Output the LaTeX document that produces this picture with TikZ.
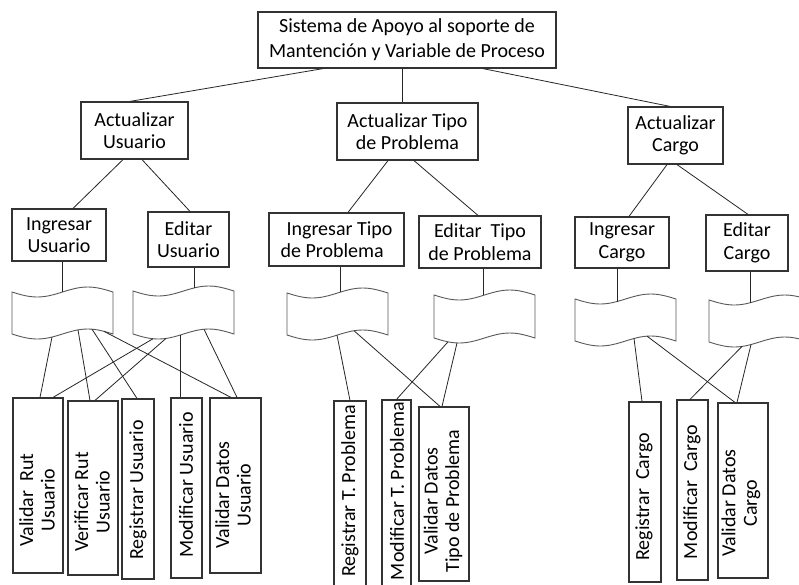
\documentclass[tikz,border=0pt]{standalone}
\usepackage{fontspec}
\setmainfont{Carlito}

% framed text box given by its corners: name, x0, y0, x1, y1, text
\newcommand\boxat[6]{%
  \node[box, minimum width={(#4-#2)*1pt}, minimum height={(#5-#3)*1pt}]
    (#1) at ({(#2+#4)/2},{(#3+#5)/2}) {#6};}
% tall empty box: name, x0, y0, x1, y1
\newcommand\tallbox[5]{%
  \node[vbox, minimum width={(#4-#2)*1pt}, minimum height={(#5-#3)*1pt}]
    (#1) at ({(#2+#4)/2},{(#3+#5)/2}) {};}
% punched-tape banner: left, right, top line, bottom line
\def\tapeamp{5}
\newcommand\tapebanner[4]{%
  \pgfmathsetmacro\tpqw{(#2-#1)/4}%
  \path[tape] (#1,#3) sin ++(\tpqw,\tapeamp) cos ++(\tpqw,-\tapeamp)
    sin ++(\tpqw,-\tapeamp) cos ++(\tpqw,\tapeamp) -- (#2,#4)
    sin ++(-\tpqw,-\tapeamp) cos ++(-\tpqw,\tapeamp)
    sin ++(-\tpqw,\tapeamp) cos ++(-\tpqw,-\tapeamp) -- cycle;}
% point on a wavy edge: name, x, left, width, edge line
\newcommand\tapept[5]{%
  \coordinate (#1) at (#2,{#5+\tapeamp*sin(360/#4*(#2-#3))});}

\begin{document}
\begin{tikzpicture}[x=1pt,y=-1pt,
  box/.style={draw=black!80, line width=1.2pt, inner sep=0pt, align=center,
    font=\fontsize{20}{22.5}\selectfont},
  vbox/.style={draw=black!80, line width=1.2pt, inner sep=0pt},
  vtext/.style={rotate=90, align=center, inner sep=0pt,
    font=\fontsize{20}{21.5}\selectfont},
  conn/.style={draw=black!85, line width=0.8pt},
  tape/.style={draw=black!65, line width=0.9pt, fill=white}]
\clip (0,0) rectangle (799,584);
\fill[white] (0,0) rectangle (799,584);

% ---- root and first level
\node[box, minimum width=298pt, minimum height=56pt, font=\fontsize{20}{25}\selectfont]
  (root) at (407,40) {Sistema de Apoyo al soporte de\\Mantención y Variable de Proceso};
\boxat{au}{81}{102}{188}{159}{Actualizar\\Usuario}
\boxat{at}{337}{103}{478}{160}{Actualizar Tipo\\de Problema}
\boxat{ac}{628}{107}{723}{164}{Actualizar\\Cargo}

% ---- second level
\boxat{iu}{12}{209}{106}{261}{Ingresar\\Usuario}
\boxat{eu}{148}{212}{229}{267}{Editar\\Usuario}
\boxat{it}{269}{213}{404}{266}{\hspace*{6pt}Ingresar Tipo\hfill\null\\de Problema\hfill\null}
\boxat{et}{419}{216}{541}{268}{Editar~~Tipo\\de Problema}
\boxat{ic}{575}{217}{669}{268}{Ingresar\\Cargo}
\boxat{ec}{706}{215}{788}{271}{Editar\\Cargo}

% ---- banners
\tapebanner{12}{113}{292}{334}
\tapebanner{133}{234}{291}{334}
\tapebanner{287}{388}{293}{335}
\tapebanner{434}{535}{295}{338}
\tapebanner{575}{676}{299}{341}
\tapebanner{709}{810}{300}{342}

% banner top points
\tapept{b1t}{62}{12}{101}{292}
\tapept{b2t}{194}{133}{101}{291}
\tapept{b3t}{340}{287}{101}{293}
\tapept{b4t}{483}{434}{101}{295}
\tapept{b5t}{617}{575}{101}{299}
\tapept{b6t}{750}{709}{101}{300}
% banner bottom points
\tapept{b1a}{52}{12}{101}{334}
\tapept{b1b}{78}{12}{101}{334}
\tapept{b1c}{92}{12}{101}{334}
\tapept{b1d}{104}{12}{101}{334}
\tapept{b2a}{153}{133}{101}{334}
\tapept{b2b}{166}{133}{101}{334}
\tapept{b2c}{180}{133}{101}{334}
\tapept{b2d}{204}{133}{101}{334}
\tapept{b3a}{337}{287}{101}{335}
\tapept{b3b}{354}{287}{101}{335}
\tapept{b4a}{448}{434}{101}{338}
\tapept{b4b}{457}{434}{101}{338}
\tapept{b5a}{634}{575}{101}{341}
\tapept{b5b}{647}{575}{101}{341}
\tapept{b6a}{742}{709}{101}{342}
\tapept{b6b}{751}{709}{101}{342}

% ---- bottom level
\tallbox{vr}{13}{398}{63}{573}
\tallbox{vf}{68}{401}{118}{575}
\tallbox{ru}{122}{399}{154}{579}
\tallbox{mu}{171}{398}{202}{578}
\tallbox{vd}{210}{398}{261}{573}
\tallbox{rt}{334}{401}{366}{610}
\tallbox{mt}{382}{400}{411}{610}
\tallbox{vt}{419}{407}{469}{581}
\tallbox{rc}{629}{402}{661}{582}
\tallbox{mc}{677}{400}{708}{580}
\tallbox{vc}{718}{403}{768}{578}

\node[vtext] (vr-t) at (37,500) {Validar~~Rut\\Usuario};
\node[vtext] (vf-t) at (92,502) {Verificar Rut\\Usuario};
\node[vtext] (ru-t) at (138,490) {Registrar Usuario};
\node[vtext] (mu-t) at (186,485) {Modificar Usuario};
\node[vtext] (vd-t) at (233,495) {Validar Datos\\Usuario};
\node[vtext] (rt-t) at (350,491) {Registrar T. Problema};
\node[vtext] (mt-t) at (397,491) {Modificar T. Problema};
\node[vtext] (vt-t) at (443,501) {Validar Datos\\Tipo de Problema};
\node[vtext] (rc-t) at (644,497) {Registrar~~Cargo};
\node[vtext] (mc-t) at (692,492) {Modificar~~Cargo};
\node[vtext] (vc-t) at (741,503) {Validar Datos\\Cargo};

% ---- connectors
\draw[conn] ([xshift=-84pt]root.south) -- ([xshift=-4.5pt]au.north);
\draw[conn] ([xshift=-5pt]root.south) -- ([xshift=-5.5pt]at.north);
\draw[conn] ([xshift=76pt]root.south) -- ([xshift=-5.5pt]ac.north);

\draw[conn] ([xshift=-11.5pt]au.south) -- ([xshift=14pt]iu.north);
\draw[conn] ([xshift=7.5pt]au.south) -- ([xshift=1.5pt]eu.north);
\draw[conn] ([xshift=-19.5pt]at.south) -- ([xshift=11.5pt]it.north);
\draw[conn] ([xshift=6.5pt]at.south) -- ([xshift=-2pt]et.north);
\draw[conn] ([xshift=-8.5pt]ac.south) -- ([xshift=7pt]ic.north);
\draw[conn] ([xshift=1.5pt]ac.south) -- ([xshift=1pt]ec.north);

\draw[conn] ([xshift=3pt]iu.south) -- (b1t);
\draw[conn] ([xshift=5.5pt]eu.south) -- (b2t);
\draw[conn] ([xshift=3.5pt]it.south) -- (b3t);
\draw[conn] ([xshift=3pt]et.south) -- (b4t);
\draw[conn] ([xshift=-5pt]ic.south) -- (b5t);
\draw[conn] ([xshift=3pt]ec.south) -- (b6t);

\draw[conn] (b1a) -- ([xshift=2pt]vr.north);
\draw[conn] (b1b) -- ([xshift=-3pt]vf.north);
\draw[conn] (b1c) -- ([xshift=-1pt]ru.north);
\draw[conn] (b1d) -- ([xshift=-4.5pt]vd.north);
\draw[conn] (b2a) -- ([xshift=15pt]vr.north);
\draw[conn] (b2b) -- ([xshift=2pt]vf.north);
\draw[conn] (b2c) -- ([xshift=-6.5pt]mu.north);
\draw[conn] (b2d) -- ([xshift=1.5pt]vd.north);

\draw[conn] (b3a) -- (rt.north);
\draw[conn] (b3b) -- ([xshift=-4pt]vt.north);
\draw[conn] (b4a) -- (mt.north);
\draw[conn] (b4b) -- ([xshift=-2pt]vt.north);

\draw[conn] (b5a) -- ([xshift=-3pt]rc.north);
\draw[conn] (b5b) -- ([xshift=-8pt]vc.north);
\draw[conn] (b6a) -- ([xshift=-2.5pt]mc.north);
\draw[conn] (b6b) -- ([xshift=-6pt]vc.north);
\end{tikzpicture}
\end{document}
